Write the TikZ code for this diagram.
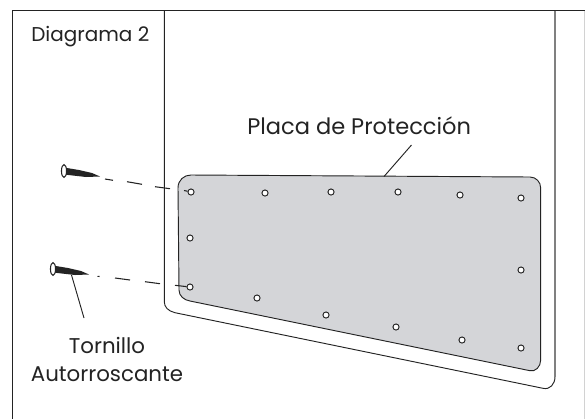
\documentclass[tikz,border=0pt]{standalone}
\usepackage{fontspec}
\setmainfont{Poppins}
\definecolor{plate}{RGB}{212,213,216}
\definecolor{ink}{RGB}{35,35,35}
\tikzset{x=0.75pt,y=-0.75pt,
  label text/.style={font=\fontsize{16.9pt}{21pt}\selectfont,text=ink,inner sep=0pt,align=center},
  small text/.style={font=\fontsize{15pt}{21pt}\selectfont,text=ink,inner sep=0pt,align=center},
  mid text/.style={font=\fontsize{16pt}{21pt}\selectfont,text=ink,inner sep=0pt,align=center},
  hole/.style={circle,draw=ink,fill=white,line width=0.7pt,minimum size=4.6pt,inner sep=0pt},
  edge line/.style={draw=ink,line width=0.7pt},
  trace/.style={draw=ink,line width=0.8pt},
  screw body/.style={fill=ink,draw=none},
  screw head/.style={draw=ink,fill=white,line width=0.8pt}}
\begin{document}
\begin{tikzpicture}
\useasboundingbox (0,0) rectangle (585,419);
\fill[white] (0,0) rectangle (585,419);
% frame
\draw[edge line,line width=0.9pt] (585,10.5) -- (12.7,10.5) -- (12.7,419);
\draw[draw=gray!35,line width=0.8pt] (584.5,10.5) -- (584.5,419);
% door
\draw[edge line] (555,376.7) .. controls (555,384) and (550,390) .. (543,388.3)
  -- (175,312.7) .. controls (168,311) and (164.3,307) .. (164.3,301.7) -- (164.3,10.5);
\draw[draw=gray,line width=1.2pt] (555,10.5) -- (555,377);
% plate
\draw[edge line,fill=plate] (178,188) .. controls (178,180) and (184,175) .. (191,175)
  -- (530,177) .. controls (536,177) and (540.7,182) .. (540.7,188)
  -- (540.7,360) .. controls (540.7,367) and (535,372) .. (530,370.7)
  -- (190,301) .. controls (184,300) and (179,296) .. (179,290) -- cycle;
% holes
\foreach \n/\x/\y in {a/191/192,b/265/193,c/331/192,d/398/192,e/460/195,f/521/198,
  g/190/238,h/521/270,i/190/287,j/257/298,k/326/315,l/396/327,m/462/340,n/521/348}
  \node[hole] (\n) at (\x,\y) {};
% screws
\foreach \xo/\yo in {64/171,53/269}{
  \fill[screw body] (\xo,\yo-3.5) -- (\xo+15,\yo-1) -- (\xo+28,\yo+2) -- (\xo+36,\yo+5.5) -- (\xo+22,\yo+6) -- (\xo,\yo+3.5) -- cycle;
  \draw[screw head] (\xo,\yo) ellipse (1.9pt and 4.8pt);
}
% dashed traces
\draw[trace] (105,179) -- (113,180.3);
\draw[trace] (127,181.7) -- (142,184.3);
\draw[trace] (155,186.7) -- (170,188.7);
\draw[trace] (184,190.5) -- (a);
\draw[trace] (97.5,276.3) -- (99.5,276.5);
\draw[trace] (115,278) -- (130,280);
\draw[trace] (145,281.7) -- (160,283.7);
\draw[trace] (175,285.3) -- (i);
% leaders
\node[label text,anchor=base west] (placa) at (247,134) {Placa de Protección};
\coordinate (pl) at (384,176.5);
\coordinate (pt) at (411.5,145);
\draw[edge line] (pt) -- (pl);
\node[mid text,anchor=base] (torn) at (107,353) {Tornillo};
\node[mid text,anchor=base] (auto) at (107,381) {Autorroscante};
\coordinate (tt) at (71.5,275);
\coordinate (tb) at (84,318);
\draw[edge line] (tt) -- (tb);
\node[small text,anchor=base west] (diag) at (31,41.7) {Diagrama 2};
\end{tikzpicture}
\end{document}
